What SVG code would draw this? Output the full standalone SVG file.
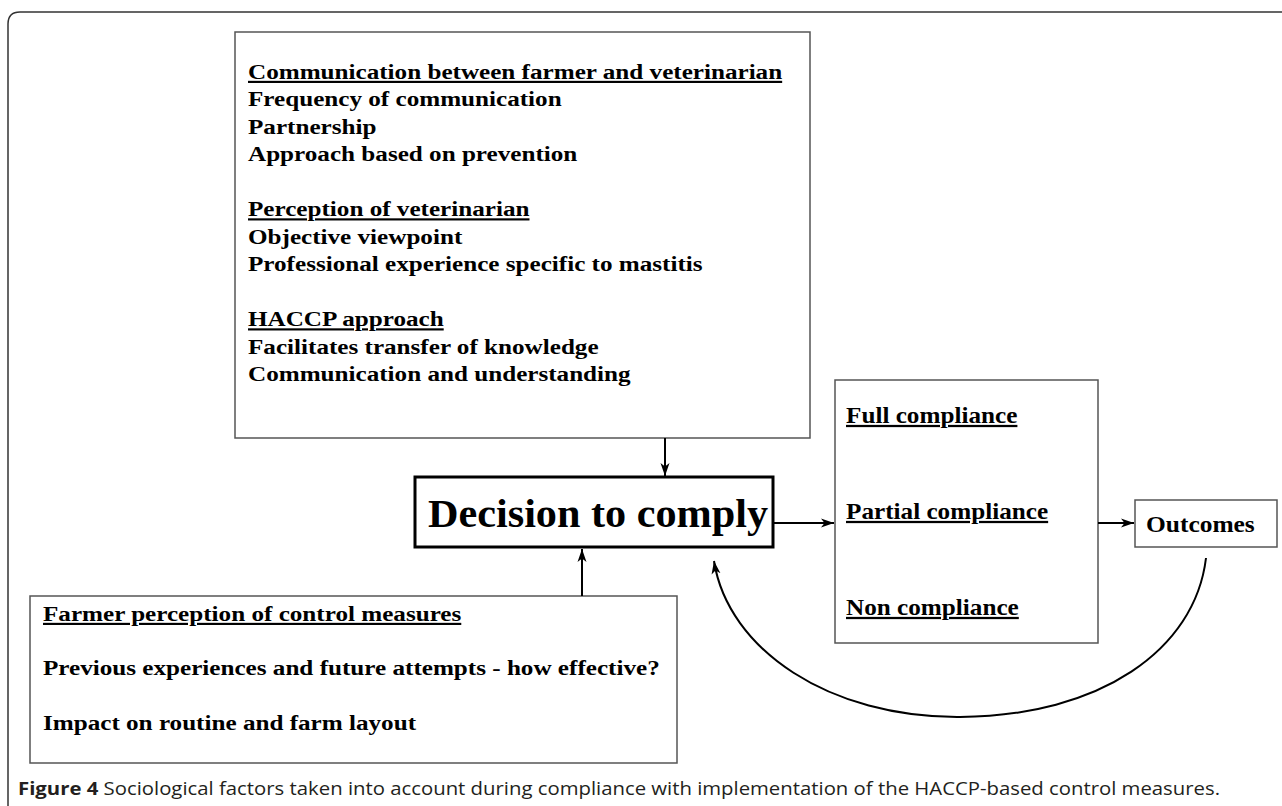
<svg xmlns="http://www.w3.org/2000/svg" width="1282" height="806" viewBox="0 0 1282 806">
<style>
.t{font-family:"Liberation Serif","Times New Roman",serif;font-weight:bold;fill:#000}
.u{text-decoration:underline}
.box{fill:#fff;stroke:#555;stroke-width:1.5}
.dbox{fill:#fff;stroke:#000;stroke-width:3}
.conn{fill:none;stroke:#000;stroke-width:2}
.cap{font-family:"Open Sans","Noto Sans","Liberation Sans",sans-serif;font-size:18px;fill:#231f20}
</style>
<defs>
<marker id="ah" markerUnits="userSpaceOnUse" markerWidth="14" markerHeight="10" refX="13" refY="5" orient="auto">
<path d="M0,0.5 L13,5 L0,9.5 L3.5,5 Z" fill="#000"/>
</marker>
</defs>
<rect width="1282" height="806" fill="#fff"/>
<path id="frame" d="M8,806 L8,24 Q8,12 20,12 L1282,12" fill="none" stroke="#333" stroke-width="1.5"/>

<g id="factors">
<rect class="box" x="235" y="32" width="575" height="406"/>
<g transform="translate(248,0) scale(1.17,1)" class="t" font-size="21.5">
<text x="0" y="79" class="u">Communication between farmer and veterinarian</text>
<text x="0" y="106.5">Frequency of communication</text>
<text x="0" y="134">Partnership</text>
<text x="0" y="161.5">Approach based on prevention</text>
<text x="0" y="216.5" class="u">Perception of veterinarian</text>
<text x="0" y="244">Objective viewpoint</text>
<text x="0" y="271.5">Professional experience specific to mastitis</text>
<text x="0" y="326.5" class="u">HACCP approach</text>
<text x="0" y="354">Facilitates transfer of knowledge</text>
<text x="0" y="381.5">Communication and understanding</text>
</g>
</g>

<g id="decision">
<rect class="dbox" x="415" y="477" width="358" height="70"/>
<text class="t" font-size="41" transform="translate(428,527) scale(1.03,1)" x="0" y="0">Decision to comply</text>
</g>

<g id="compliance">
<rect class="box" x="835" y="380" width="263" height="263"/>
<g transform="translate(846,0) scale(1.12,1)" class="t" font-size="22.5">
<text x="0" y="423" class="u">Full compliance</text>
<text x="0" y="519" class="u">Partial compliance</text>
<text x="0" y="615" class="u">Non compliance</text>
</g>
</g>

<g id="outcomes">
<rect class="box" x="1135" y="500" width="142" height="47"/>
<text class="t" font-size="24" transform="translate(1146,532) scale(1.06,1)" x="0" y="0">Outcomes</text>
</g>

<g id="farmer">
<rect class="box" x="30" y="596" width="647" height="167"/>
<g transform="translate(43,0) scale(1.17,1)" class="t" font-size="21.5">
<text x="0" y="621" class="u">Farmer perception of control measures</text>
<text x="0" y="675">Previous experiences and future attempts - how effective?</text>
<text x="0" y="730">Impact on routine and farm layout</text>
</g>
</g>

<g id="connectors">
<line class="conn" x1="665" y1="438" x2="665" y2="476" marker-end="url(#ah)"/>
<line class="conn" x1="582" y1="596" x2="582" y2="549" marker-end="url(#ah)"/>
<line class="conn" x1="773" y1="523" x2="834" y2="523" marker-end="url(#ah)"/>
<line class="conn" x1="1098" y1="523" x2="1134" y2="523" marker-end="url(#ah)"/>
<path class="conn" stroke-width="2.5" d="M1206,558 C1195,650 1100,716 960,717 C830,718 728,650 714,561" marker-end="url(#ah)"/>
</g>

<text class="cap" x="18" y="795" textLength="1202" lengthAdjust="spacingAndGlyphs"><tspan font-weight="bold">Figure 4</tspan> Sociological factors taken into account during compliance with implementation of the HACCP-based control measures.</text>
</svg>
